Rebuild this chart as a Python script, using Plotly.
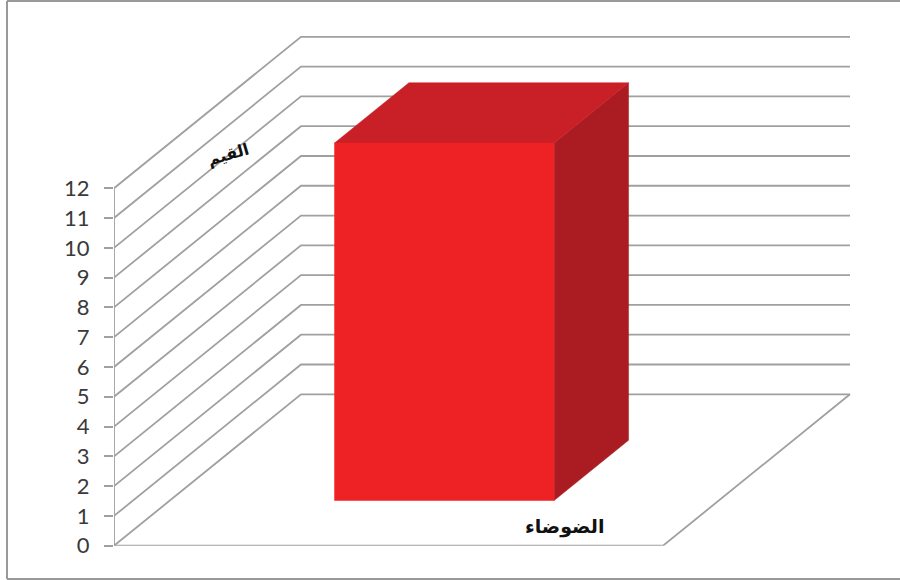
import plotly.graph_objects as go

# Chart data
categories = ["الضوضاء"]
values = [12]
tick_values = list(range(0, 13))
tick_labels = [str(v) for v in tick_values]
value_axis_title = "القيم"

# Oblique projection of the 3D box: one unit of depth shifts a point
# right and up on the page, measured in axis units.
WIDTH, HEIGHT = 900, 580
ORIGIN_X, ORIGIN_Y = 114, 545.7
FLOOR_W = 549
UNIT_PX = 29.79
DEPTH_X_PX, DEPTH_Y_PX = 187, 151.4
DEPTH_X = DEPTH_X_PX / FLOOR_W
DEPTH_Y = DEPTH_Y_PX / UNIT_PX


def project(cx, depth, value):
    return cx + depth * DEPTH_X, value + depth * DEPTH_Y


def polyline(points):
    xs, ys = zip(*[project(*p) for p in points])
    return list(xs), list(ys)


GRID = "#a0a0a0"
fig = go.Figure()

# Wall gridlines: side wall then back wall, one run per tick
gx, gy = [], []
for v in tick_values:
    xs, ys = polyline([(0, 0, v), (0, 1, v), (1, 1, v)])
    gx += xs + [None]
    gy += ys + [None]
fig.add_trace(go.Scatter(x=gx, y=gy, mode="lines", hoverinfo="skip",
                         line=dict(color=GRID, width=1.8)))

# Floor edges and the vertical value axis
xs, ys = polyline([(0, 0, max(tick_values)), (0, 0, 0), (1, 0, 0), (1, 1, 0)])
fig.add_trace(go.Scatter(x=xs, y=ys, mode="lines", hoverinfo="skip",
                         line=dict(color=GRID, width=1.8)))

# Bar faces, with the box occupying the middle of the category slot
BAR_L, BAR_R = 0.30, 0.70
BAR_D0, BAR_D1 = 0.2985, 0.6965
for value in values:
    faces = [
        ("#aa1c22", [(BAR_R, BAR_D0, 0), (BAR_R, BAR_D1, 0),
                     (BAR_R, BAR_D1, value), (BAR_R, BAR_D0, value)]),
        ("#c82026", [(BAR_L, BAR_D0, value), (BAR_R, BAR_D0, value),
                     (BAR_R, BAR_D1, value), (BAR_L, BAR_D1, value)]),
        ("#ee2224", [(BAR_L, BAR_D0, 0), (BAR_R, BAR_D0, 0),
                     (BAR_R, BAR_D0, value), (BAR_L, BAR_D0, value)]),
    ]
    for color, corners in faces:
        xs, ys = polyline(corners + corners[:1])
        fig.add_trace(go.Scatter(x=xs, y=ys, mode="lines", fill="toself",
                                 fillcolor=color, hoverinfo="skip",
                                 line=dict(color=color, width=0.5)))

fig.update_layout(
    width=WIDTH, height=HEIGHT,
    margin=dict(l=0, r=0, t=0, b=0, autoexpand=False),
    paper_bgcolor="white", plot_bgcolor="white",
    showlegend=False,
    xaxis=dict(visible=False, domain=[ORIGIN_X / WIDTH, 1],
               range=[0, (WIDTH - ORIGIN_X) / FLOOR_W], fixedrange=True),
    yaxis=dict(domain=[(HEIGHT - ORIGIN_Y) / HEIGHT, 1],
               range=[0, ORIGIN_Y / UNIT_PX], fixedrange=True,
               showgrid=False, zeroline=False, showline=False,
               tickmode="array", tickvals=tick_values, ticktext=tick_labels,
               ticks="outside", ticklen=9, tickwidth=1.8, tickcolor=GRID,
               ticklabelstandoff=10,
               tickfont=dict(family="Lato", size=22, color="#3a3a3a")),
    # Outer frame of the chart area (open on the right)
    shapes=[
        dict(type="line", xref="paper", yref="paper", x0=x0 / WIDTH, x1=x1 / WIDTH,
             y0=1 - y0 / HEIGHT, y1=1 - y1 / HEIGHT,
             line=dict(color="#999999", width=2))
        for x0, y0, x1, y1 in [(7, 1, 900, 1), (7, 1, 7, 579), (7, 579, 900, 579)]
    ],
    annotations=[
        dict(text=f"<b>{value_axis_title}</b>", xref="paper", yref="paper",
             x=228 / WIDTH, y=1 - 154 / HEIGHT, xanchor="center", yanchor="middle",
             showarrow=False, textangle=-16,
             font=dict(family="DejaVu Sans", size=16, color="#111111")),
        dict(text=f"<b>{categories[0]}</b>", xref="paper", yref="paper",
             x=565 / WIDTH, y=1 - 526 / HEIGHT, xanchor="center", yanchor="middle",
             showarrow=False,
             font=dict(family="DejaVu Sans", size=19, color="#111111")),
    ],
)

fig.write_html("out.html")
